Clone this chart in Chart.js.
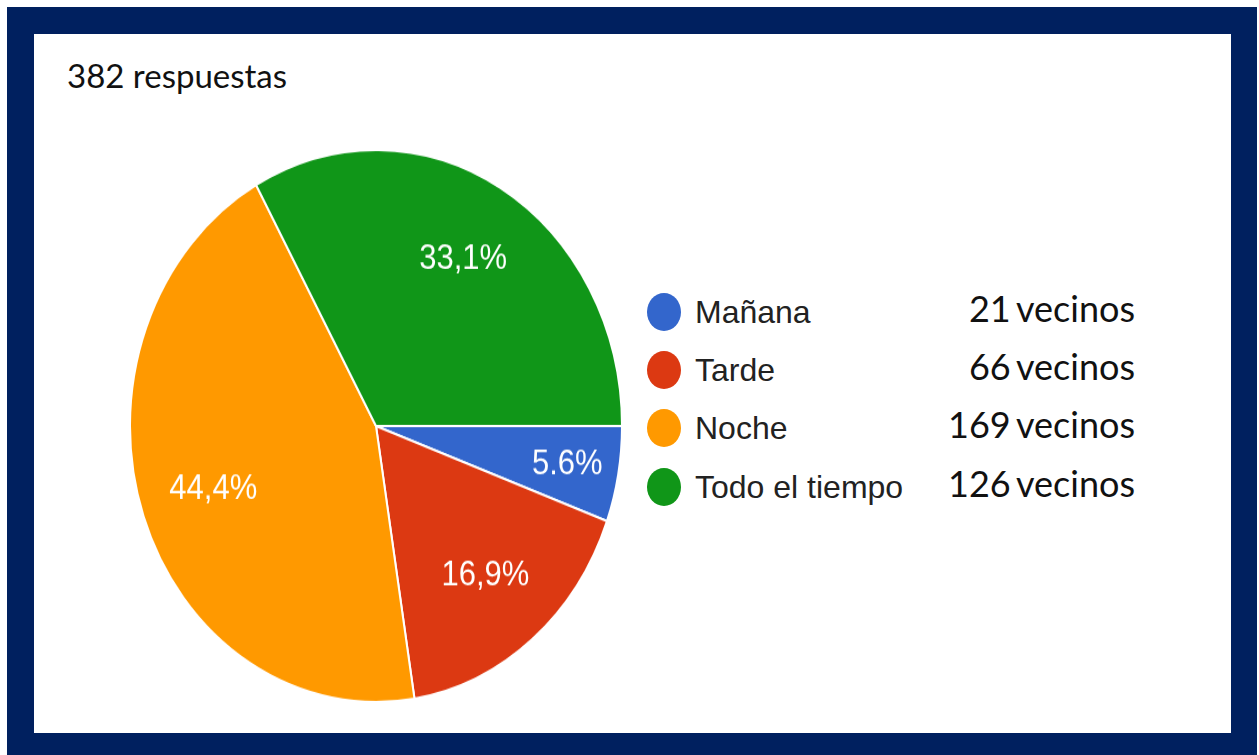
<!DOCTYPE html>
<html lang="es">
<head>
<meta charset="utf-8">
<script src="https://cdn.jsdelivr.net/npm/chart.js@4"></script>
<style>
  html, body { margin: 0; padding: 0; background: #ffffff; }
  body { width: 1259px; height: 755px; position: relative; overflow: hidden; }
  #frame { position: absolute; left: 7px; top: 7px; width: 1250px; height: 748px; background: #00205f; }
  #inner { position: absolute; left: 34px; top: 34px; width: 1197px; height: 699px; background: #ffffff; }
  #title { position: absolute; left: 67px; top: 55px; font: 33px Lato, "Open Sans", sans-serif; color: #111; white-space: nowrap; }
  #pie { position: absolute; left: 129px; top: 179px; transform: scaleY(1.122); transform-origin: 50% 50%; }
  .row { position: absolute; left: 647px; width: 490px; height: 40px; }
  .dot { position: absolute; left: 0; top: 1px; width: 34px; height: 38px; border-radius: 50%; }
  .lbl { position: absolute; left: 48px; top: 2px; font: 32px "Liberation Sans", Arial, sans-serif; color: #222; white-space: nowrap; }
  .cnt { position: absolute; right: 2px; top: -6px; font: 36px Lato, "Open Sans", sans-serif; color: #111; white-space: nowrap; word-spacing: -3px; }
</style>
</head>
<body>
<div id="frame"></div>
<div id="inner"></div>
<div id="title"></div>
<canvas id="pie" width="494" height="494"></canvas>
<div id="legend"></div>
<script>
const totalAnswers = 382;
const categories = ["Mañana", "Tarde", "Noche", "Todo el tiempo"];
const percentages = [5.6, 16.9, 44.4, 33.1];
const sliceLabels = ["5.6%", "16,9%", "44,4%", "33,1%"];
const counts = [21, 66, 169, 126];
const colors = ["#3366cc", "#dc3912", "#ff9900", "#109618"];

document.getElementById("title").textContent = totalAnswers + " respuestas";

// legend with the counts on the right
const legend = document.getElementById("legend");
const rowTops = [292, 350, 408, 467];
categories.forEach((name, i) => {
  const row = document.createElement("div");
  row.className = "row";
  row.style.top = rowTops[i] + "px";
  row.innerHTML =
    '<div class="dot" style="background:' + colors[i] + '"></div>' +
    '<div class="lbl"></div><div class="cnt"></div>';
  row.querySelector(".lbl").textContent = name;
  row.querySelector(".cnt").textContent = counts[i] + " vecinos";
  legend.appendChild(row);
});

// white percentage text inside each slice
const sliceText = {
  id: "sliceText",
  afterDatasetsDraw(chart) {
    const ctx = chart.ctx;
    const arcs = chart.getDatasetMeta(0).data;
    ctx.save();
    ctx.fillStyle = "#ffffff";
    ctx.textAlign = "center";
    ctx.textBaseline = "middle";
    ctx.font = "31px 'Liberation Sans', Arial, sans-serif";
    arcs.forEach((arc, i) => {
      const p = arc.getProps(["x", "y", "startAngle", "endAngle", "outerRadius"], true);
      const mid = (p.startAngle + p.endAngle) / 2;
      const span = p.endAngle - p.startAngle;
      const r = p.outerRadius * (span < 0.5 ? 0.79 : 0.7);
      ctx.fillText(sliceLabels[i], p.x + Math.cos(mid) * r, p.y + Math.sin(mid) * r);
    });
    ctx.restore();
  }
};

new Chart(document.getElementById("pie"), {
  type: "pie",
  data: {
    labels: categories,
    datasets: [
      {
        data: percentages,
        backgroundColor: colors,
        borderColor: "#ffffff",
        borderWidth: 2,
      },
    ],
  },
  options: {
    responsive: false,
    animation: false,
    rotation: 90,
    layout: { padding: 0 },
    plugins: {
      legend: { display: false },
      tooltip: { enabled: false },
      title: { display: false },
    },
  },
  plugins: [sliceText],
});
</script>
</body>
</html>
